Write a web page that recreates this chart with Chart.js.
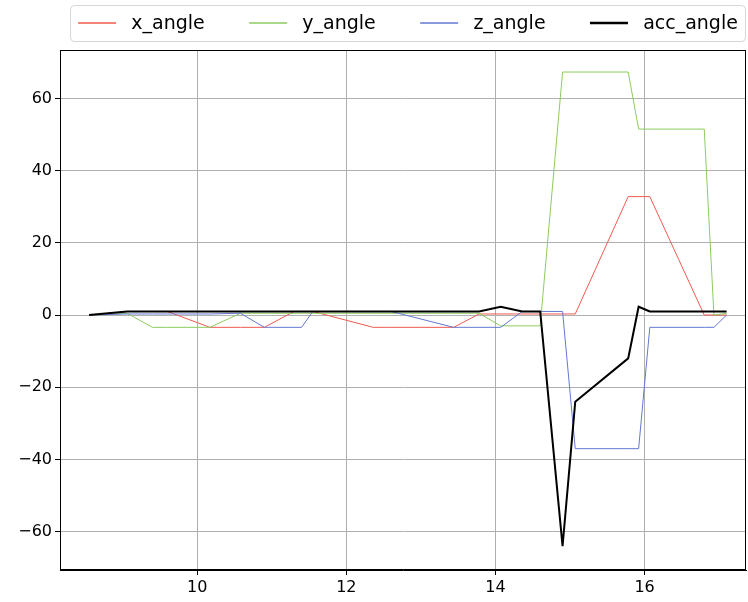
<!DOCTYPE html>
<html>
<head>
<meta charset="utf-8">
<script src="https://cdn.jsdelivr.net/npm/chart.js@4.4.1/dist/chart.umd.min.js"></script>
<style>
  html, body { margin: 0; padding: 0; background: #fff; }
</style>
</head>
<body>
<canvas id="grafico" width="748" height="602"></canvas>
<script>
// Datos (tiempo en s, ángulos en grados)
const tiempos   = [8.55, 9.06, 9.4, 9.6, 10.17, 10.58, 10.9, 11.3, 11.4, 11.55, 12.36, 12.6, 13.44, 13.78, 14.07, 14.36, 14.6, 14.9, 15.07, 15.78, 15.92, 16.07, 16.8, 16.93, 17.1];
const xAngle    = [0, 1, 1, 1, -3.4, -3.4, -3.4, 1, 1, 1, -3.4, -3.4, -3.4, 0.3, 0.3, 0.3, 0.3, 0.3, 0.3, 32.8, 32.8, 32.8, 0, 0, 0];
const yAngle    = [0, 0.5, -3.4, -3.4, -3.4, 0.5, 0.5, 0.5, 0.5, 0.5, 0.5, 0.5, 0.5, 0.5, -3, -3, -3, 67.3, 67.3, 67.3, 51.5, 51.5, 51.5, 0, 0.5];
const zAngle    = [0, 0.3, 0.3, 0.3, 0.3, 0.5, -3.4, -3.4, -3.4, 1, 1, 1, -3.4, -3.4, -3.4, 1, 1, 1, -37, -37, -37, -3.4, -3.4, -3.4, 0];
const accAngle  = [0, 1, 1, 1, 1, 1, 1, 1, 1, 1, 1, 1, 1, 1, 2.3, 1, 1, -64, -24, -12, 2.3, 1, 1, 1, 1];

const ticksX = [10, 12, 14, 16];
const ticksY = [-60, -40, -20, 0, 20, 40, 60];

const series = [
    { label: 'x_angle',   data: xAngle,   color: 'rgb(240, 90, 80)',   width: 1, order: 3 },
    { label: 'y_angle',   data: yAngle,   color: 'rgb(140, 205, 95)',  width: 1, order: 2 },
    { label: 'z_angle',   data: zAngle,   color: 'rgb(100, 120, 210)', width: 1, order: 1 },
    { label: 'acc_angle', data: accAngle, color: '#000000',            width: 2, order: 0 }
];

const FUENTE = '"DejaVu Sans", sans-serif';

// Leyenda al estilo matplotlib (modo expand) y marco del área de trazado
const pluginMarco = {
    id: 'marco',
    afterDraw(chart) {
        const ctx = chart.ctx;
        const a = chart.chartArea;

        // Marco negro alrededor del área
        ctx.save();
        ctx.strokeStyle = '#000';
        ctx.lineWidth = 1;
        ctx.strokeRect(Math.round(a.left) + 0.5, Math.round(a.top) + 0.5,
                       Math.round(a.right - a.left) - 1, Math.round(a.bottom - a.top) - 1);
        ctx.restore();

        // Leyenda
        const F = 19;
        const caja = { left: 70.5, top: 5.5, right: 745.5, bottom: 41.5 };
        ctx.save();
        ctx.beginPath();
        ctx.roundRect(caja.left, caja.top, caja.right - caja.left, caja.bottom - caja.top, 4);
        ctx.fillStyle = 'rgba(255,255,255,0.8)';
        ctx.fill();
        ctx.strokeStyle = '#d6d6d6';
        ctx.lineWidth = 1;
        ctx.stroke();

        ctx.font = `${F}px ${FUENTE}`;
        ctx.textBaseline = 'middle';
        ctx.textAlign = 'left';
        const pad = 0.4 * F, handle = 2 * F, gapTexto = 0.8 * F, colSep = 2 * F;
        const anchos = series.map(s => ctx.measureText(s.label).width);
        const natural = anchos.reduce((s, w) => s + handle + gapTexto + w, 0) + colSep * (series.length - 1);
        const extra = (caja.right - caja.left - 2 * pad - natural) / (series.length - 1);
        const yc = 23;
        let x = caja.left + pad;
        series.forEach((s, i) => {
            ctx.strokeStyle = s.color;
            ctx.lineWidth = s.width === 1 ? 1.4 : 2.5;
            ctx.beginPath();
            ctx.moveTo(x, yc);
            ctx.lineTo(x + handle, yc);
            ctx.stroke();
            ctx.fillStyle = '#000';
            ctx.fillText(s.label, x + handle + gapTexto, yc + 1.5);
            x += handle + gapTexto + anchos[i] + colSep + extra;
        });
        ctx.restore();
    }
};

const ctxGrafico = document.getElementById('grafico').getContext('2d');
new Chart(ctxGrafico, {
    type: 'line',
    data: {
        datasets: series.map(s => ({
            label: s.label,
            data: tiempos.map((t, i) => ({ x: t, y: s.data[i] })),
            borderColor: s.color,
            borderWidth: s.width,
            pointRadius: 0,
            tension: 0,
            fill: false,
            order: s.order
        }))
    },
    options: {
        responsive: false,
        animation: false,
        devicePixelRatio: 1,
        layout: { padding: { left: 0, top: 50, right: 2, bottom: 0 } },
        plugins: {
            legend: { display: false },
            tooltip: { enabled: false }
        },
        scales: {
            x: {
                type: 'linear',
                min: 8.16,
                max: 17.36,
                afterBuildTicks: scale => { scale.ticks = ticksX.map(v => ({ value: v })); },
                afterFit: scale => { scale.height = 32; },
                grid: { color: '#b0b0b0', lineWidth: 1, tickColor: '#000', tickLength: 5 },
                border: { display: true, color: '#000', width: 1 },
                ticks: { color: '#000', font: { family: FUENTE, size: 16 }, padding: 3, maxRotation: 0 }
            },
            y: {
                type: 'linear',
                min: -70.6,
                max: 73.4,
                afterBuildTicks: scale => { scale.ticks = ticksY.map(v => ({ value: v })); },
                afterFit: scale => { scale.width = 60; },
                grid: { color: '#b0b0b0', lineWidth: 1, tickColor: '#000', tickLength: 5 },
                border: { display: true, color: '#000', width: 1 },
                ticks: {
                    color: '#000',
                    font: { family: FUENTE, size: 16 },
                    padding: 3,
                    callback: v => String(v).replace('-', '\u2212')
                }
            }
        }
    },
    plugins: [pluginMarco]
});
</script>
</body>
</html>
